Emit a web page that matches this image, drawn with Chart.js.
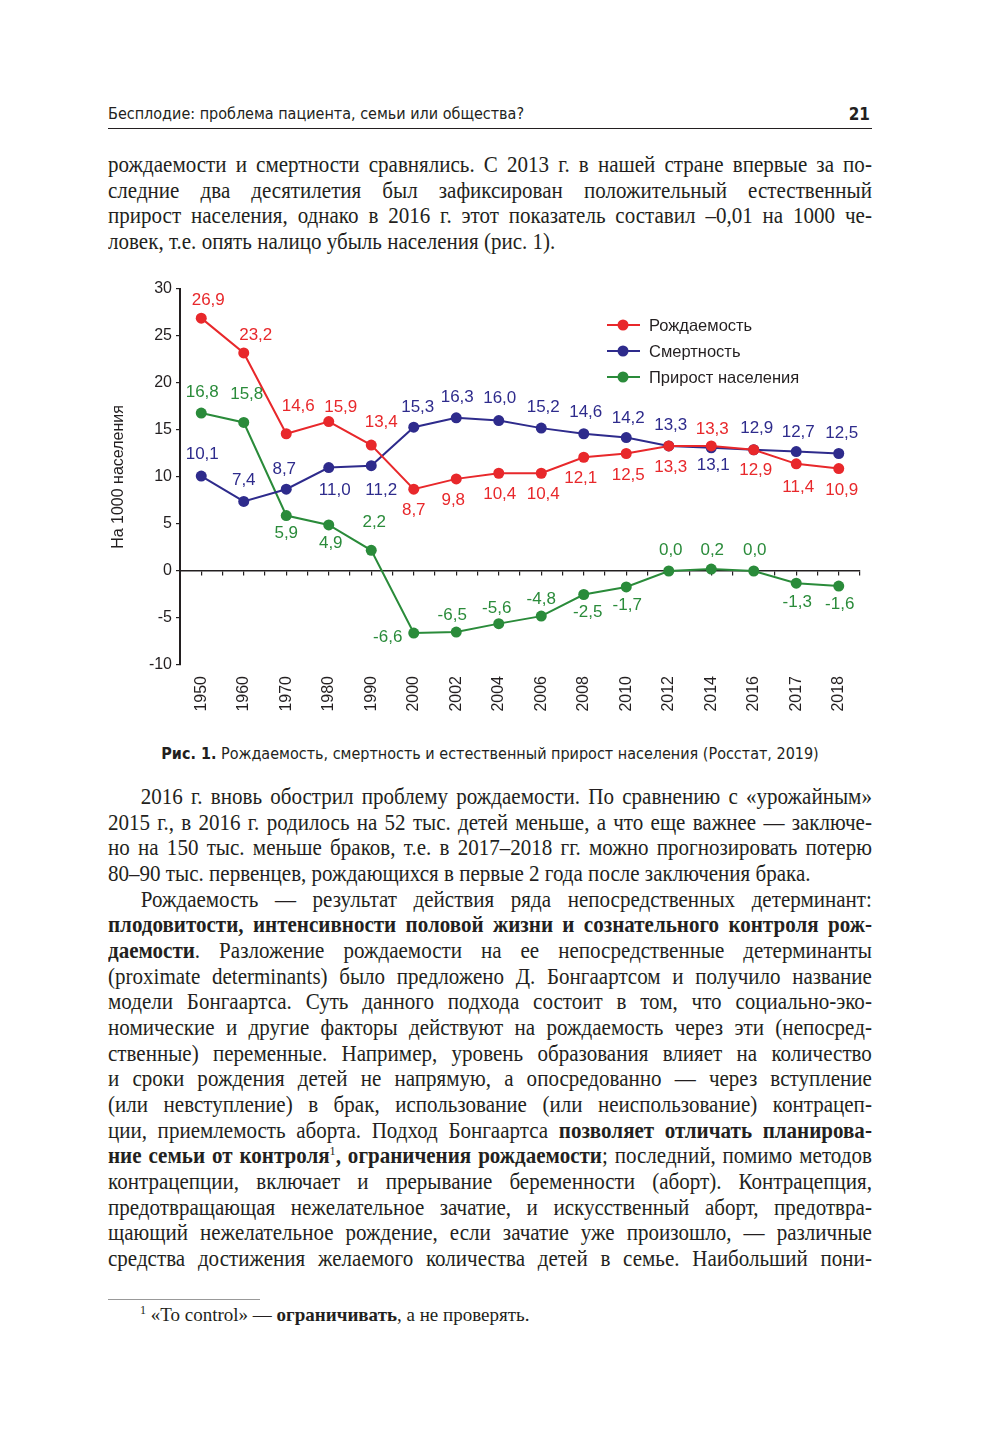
<!DOCTYPE html>
<html lang="ru">
<head>
<meta charset="utf-8">
<script src="https://cdn.jsdelivr.net/npm/chart.js@4/dist/chart.umd.min.js"></script>
<style>
  body { margin: 0; background: #fff; }
  .page { position: relative; width: 1000px; height: 1455px; color: #231f20; overflow: hidden; }
  .head { position: absolute; left: 108px; top: 104px; width: 764px; height: 24px;
          border-bottom: 1px solid #231f20; font-family: "Liberation Sans Narrow", "DejaVu Sans Condensed", sans-serif;
          font-size: 16px; }
  .head .num { position: absolute; right: 2px; top: 0; font-weight: bold; font-size: 17px; }
  .text { position: absolute; left: 108px; width: 817px; font-family: "Liberation Serif", serif;
          font-size: 22.5px; line-height: 25.65px; transform: scaleX(0.935); transform-origin: 0 0; }
  .text div { text-align: justify; text-align-last: justify; white-space: nowrap; }
  .text div.last { text-align-last: left; }
  .text div.ind { text-indent: 35px; }
  .text sup { font-size: 13px; line-height: 0; }
  .caption { position: absolute; left: 0; width: 980px; top: 744px; text-align: center;
             font-family: "Liberation Sans Narrow", "DejaVu Sans Condensed", sans-serif; font-size: 16px; }
  .chartbox { position: absolute; left: 100px; top: 270px; width: 780px; height: 455px; }
  .fnrule { position: absolute; left: 108px; top: 1299px; width: 152px; height: 1px; background: #999; }
  .fn { position: absolute; left: 140px; top: 1303px; font-family: "Liberation Serif", serif; font-size: 19px; }
</style>
</head>
<body>
<div class="page">
  <div class="head">Бесплодие: проблема пациента, семьи или общества?<span class="num">21</span></div>

  <div class="text" style="top:152px">
    <div>рождаемости и смертности сравнялись. С 2013 г. в нашей стране впервые за по-</div>
    <div>следние два десятилетия был зафиксирован положительный естественный</div>
    <div>прирост населения, однако в 2016 г. этот показатель составил –0,01 на 1000 че-</div>
    <div class="last">ловек, т.е. опять налицо убыль населения (рис. 1).</div>
  </div>

  <div class="chartbox"><canvas id="rateChart"></canvas></div>

  <div class="caption"><b>Рис. 1.</b> Рождаемость, смертность и естественный прирост населения (Росстат, 2019)</div>

  <div class="text" style="top:784px">
    <div class="ind">2016 г. вновь обострил проблему рождаемости. По сравнению с «урожайным»</div>
    <div>2015 г., в 2016 г. родилось на 52 тыс. детей меньше, а что еще важнее — заключе-</div>
    <div>но на 150 тыс. меньше браков, т.е. в 2017–2018 гг. можно прогнозировать потерю</div>
    <div class="last">80–90 тыс. первенцев, рождающихся в первые 2 года после заключения брака.</div>
    <div class="ind">Рождаемость — результат действия ряда непосредственных детерминант:</div>
    <div><b>плодовитости, интенсивности половой жизни и сознательного контроля рож-</b></div>
    <div><b>даемости</b>. Разложение рождаемости на ее непосредственные детерминанты</div>
    <div>(proximate determinants) было предложено Д. Бонгаартсом и получило название</div>
    <div>модели Бонгаартса. Суть данного подхода состоит в том, что социально-эко-</div>
    <div>номические и другие факторы действуют на рождаемость через эти (непосред-</div>
    <div>ственные) переменные. Например, уровень образования влияет на количество</div>
    <div>и сроки рождения детей не напрямую, а опосредованно — через вступление</div>
    <div>(или невступление) в брак, использование (или неиспользование) контрацеп-</div>
    <div>ции, приемлемость аборта. Подход Бонгаартса <b>позволяет отличать планирова-</b></div>
    <div><b>ние семьи от контроля</b><sup>1</sup><b>, ограничения рождаемости</b>; последний, помимо методов</div>
    <div>контрацепции, включает и прерывание беременности (аборт). Контрацепция,</div>
    <div>предотвращающая нежелательное зачатие, и искусственный аборт, предотвра-</div>
    <div>щающий нежелательное рождение, если зачатие уже произошло, — различные</div>
    <div>средства достижения желаемого количества детей в семье. Наибольший пони-</div>
  </div>

  <div class="fnrule"></div>
  <div class="fn"><sup style="font-size:12px">1</sup> «To control» — <b>ограничивать</b>, а не проверять.</div>
</div>

<script>
const years = ['1950', '1960', '1970', '1980', '1990', '2000', '2002', '2004',
  '2006', '2008', '2010', '2012', '2014', '2016', '2017', '2018'];
const birthRate = [26.9, 23.2, 14.6, 15.9, 13.4, 8.7, 9.8, 10.4, 10.4, 12.1, 12.5, 13.3, 13.3, 12.9, 11.4, 10.9];
const deathRate = [10.1, 7.4, 8.7, 11.0, 11.2, 15.3, 16.3, 16.0, 15.2, 14.6, 14.2, 13.3, 13.1, 12.9, 12.7, 12.5];
const naturalGrowth = [16.8, 15.8, 5.9, 4.9, 2.2, -6.6, -6.5, -5.6, -4.8, -2.5, -1.7, 0.0, 0.2, 0.0, -1.3, -1.6];
const yTicks = [-10, -5, 0, 5, 10, 15, 20, 25, 30];

// label offsets from the point centre [dx, dy]
const birthLabelPos = [[7,-18],[12,-18],[12,-27],[12,-14],[10,-23],[0,21],[-3,21],[1,21],[2,21],[-3,21],[2,22],[2,21],[1,-17],[2,21],[2,23],[3,22]];
const deathLabelPos = [[1,-22],[0,-21],[-2,-20],[6,23],[10,25],[4,-20],[1,-20],[1,-22],[2,-21],[2,-21],[2,-19],[2,-21],[2,17],[3,-21],[2,-19],[3,-20]];
const growthLabelPos = [[1,-21],[3,-28],[0,18],[2,18],[3,-28],[-26,4],[-4,-17],[-2,-15],[0,-17],[4,18],[1,18],[2,-21],[1,-19],[1,-21],[1,19],[1,18]];

const RED = '#e8282b', BLUE = '#2e2b8c', GREEN = '#2a8b3a';
const FONT = '"Liberation Sans", Arial, sans-serif';

const pointLabels = {
  id: 'pointLabels',
  afterDatasetsDraw(chart) {
    const ctx = chart.ctx;
    ctx.save();
    ctx.font = '17px ' + FONT;
    ctx.textAlign = 'center';
    ctx.textBaseline = 'middle';
    chart.data.datasets.forEach((ds, i) => {
      const meta = chart.getDatasetMeta(i);
      ctx.fillStyle = ds.borderColor;
      meta.data.forEach((pt, j) => {
        const off = ds.labelPos[j];
        ctx.fillText(ds.data[j].toFixed(1).replace('.', ','), pt.x + off[0], pt.y + off[1]);
      });
    });
    ctx.restore();
  }
};

const lineLegend = {
  id: 'lineLegend',
  afterDraw(chart) {
    const ctx = chart.ctx;
    const x0 = chart.chartArea.left + 427;
    const y0 = chart.chartArea.top + 36;
    ctx.save();
    ctx.font = '16.5px ' + FONT;
    ctx.textBaseline = 'middle';
    chart.data.datasets.forEach((ds, i) => {
      const y = y0 + i * 26;
      ctx.strokeStyle = ds.borderColor;
      ctx.lineWidth = 2;
      ctx.beginPath();
      ctx.moveTo(x0, y);
      ctx.lineTo(x0 + 33, y);
      ctx.stroke();
      ctx.fillStyle = ds.borderColor;
      ctx.beginPath();
      ctx.arc(x0 + 16, y, 5.5, 0, Math.PI * 2);
      ctx.fill();
      ctx.fillStyle = '#231f20';
      ctx.fillText(ds.label, x0 + 42, y + 1);
    });
    ctx.restore();
  }
};

function series(label, data, color, labelPos) {
  return {
    label, data, labelPos,
    borderColor: color,
    backgroundColor: color,
    borderWidth: 2,
    pointRadius: 5.5,
    pointBorderWidth: 0,
    pointBackgroundColor: color,
    tension: 0
  };
}

new Chart(document.getElementById('rateChart'), {
  type: 'line',
  data: {
    labels: years,
    datasets: [
      series('Рождаемость', birthRate, RED, birthLabelPos),
      series('Смертность', deathRate, BLUE, deathLabelPos),
      series('Прирост населения', naturalGrowth, GREEN, growthLabelPos)
    ]
  },
  options: {
    responsive: true,
    maintainAspectRatio: false,
    animation: false,
    layout: { padding: { top: 19, right: 20, bottom: 8, left: 5 } },
    scales: {
      x: {
        offset: true,
        grid: { display: false },
        border: { display: false },
        ticks: { minRotation: 90, maxRotation: 90, padding: 3, color: '#231f20', font: { family: FONT, size: 16 } },
        afterFit: s => { s.height = 52; }
      },
      zeroAxis: {
        type: 'linear',
        axis: 'x',
        position: { y: 0 },
        min: -0.5,
        max: 15.5,
        ticks: { display: false, stepSize: 0.5 },
        grid: { drawOnChartArea: false, tickLength: 4, color: '#231f20', lineWidth: 1.2 },
        border: { color: '#231f20', width: 1.5 }
      },
      y: {
        min: -10,
        max: 30,
        afterBuildTicks: s => { s.ticks = yTicks.map(v => ({ value: v })); },
        grid: { drawOnChartArea: false, tickLength: 4, color: '#231f20', lineWidth: 1.2 },
        border: { color: '#231f20', width: 2 },
        ticks: { padding: 4, color: '#231f20', font: { family: FONT, size: 16 } },
        title: { display: true, text: 'На 1000 населения', color: '#231f20', font: { family: FONT, size: 16 }, padding: 4 },
        afterFit: s => { s.width = 75; }
      }
    },
    plugins: {
      legend: { display: false },
      tooltip: { enabled: false }
    }
  },
  plugins: [pointLabels, lineLegend]
});
</script>
</body>
</html>
